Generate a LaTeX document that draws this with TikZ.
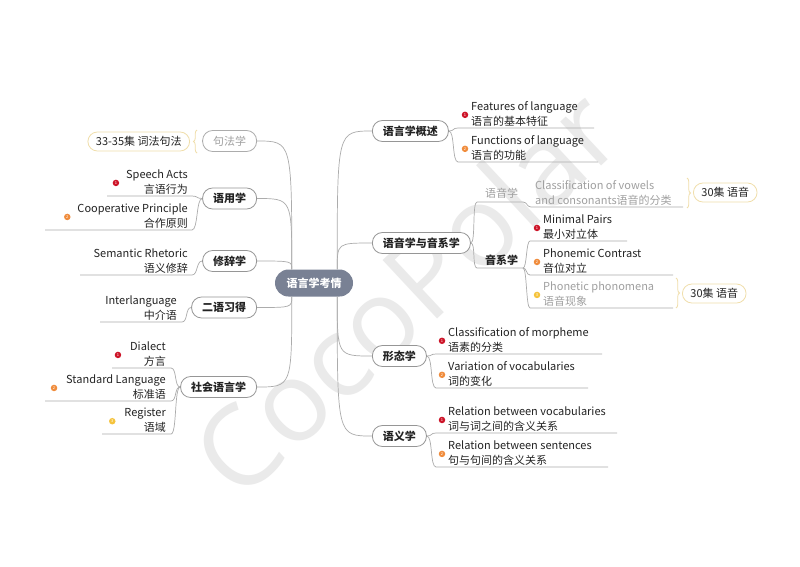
\documentclass[tikz,border=0pt]{standalone}
\usepackage{fontspec}
\setmainfont{Noto Sans CJK SC}
\newfontfamily\wmfont{Open Sans}
\usetikzlibrary{decorations.pathreplacing}
\definecolor{lnc}{RGB}{172,172,172}
\definecolor{bdc}{RGB}{150,150,150}
\definecolor{ctr}{RGB}{121,129,148}
\definecolor{txt}{RGB}{35,35,35}
\definecolor{gtx}{RGB}{160,160,160}
\definecolor{ylw}{RGB}{240,222,170}
\definecolor{bA}{RGB}{205,20,40}
\definecolor{bB}{RGB}{240,140,60}
\definecolor{bC}{RGB}{245,195,60}
\definecolor{wm}{RGB}{234,234,234}
\tikzset{
  conn/.style={draw=lnc, line width=0.7pt},
  branch/.style={draw=bdc, line width=0.8pt, rounded corners=10pt, minimum height=21pt,
    inner xsep=10.5pt, inner ysep=0pt, font=\bfseries\fontsize{11}{13}\selectfont, text=txt, fill=white},
  leaf/.style={inner sep=0pt, align=left, font=\fontsize{11}{15}\selectfont, text=txt},
  leafL/.style={leaf, align=right},
  bul/.style={circle, inner sep=0pt, minimum size=6.5pt, text=white, font=\fontsize{4}{4}\selectfont},
  tagbox/.style={draw=ylw, line width=0.8pt, rounded corners=9.5pt, minimum height=19pt,
    inner xsep=8pt, inner ysep=0pt, font=\fontsize{11}{13}\selectfont, text=txt, fill=white},
  brc/.style={draw=ylw, line width=0.8pt, decorate, decoration={brace, amplitude=3.5pt}}
}
\begin{document}
\begin{tikzpicture}[x=1pt,y=-1pt]
\useasboundingbox (0,0) rectangle (800,566);
\fill[white] (0,0) rectangle (800,566);
% watermark
\node[rotate=43, text=wm, font=\wmfont\fontsize{112}{112}\selectfont] (wmk) at (405,292) {CocoPolar};

% center
\node[fill=ctr, text=white, rounded corners=13.5pt, minimum width=78pt, minimum height=27pt, inner sep=0pt,
  font=\bfseries\fontsize{11}{13}\selectfont] (c) at (314,283) {语言学考情};
\coordinate (cRU) at ([xshift=-16pt]c.north east);
\coordinate (cRD) at ([xshift=-16pt]c.south east);
\coordinate (cLU) at ([xshift=17pt]c.north west);
\coordinate (cLD) at ([xshift=17pt]c.south west);

% right branches
\node[branch, anchor=west] (r1) at (372,131) {语言学概述};
\node[branch, anchor=west] (r2) at (372,243) {语音学与音系学};
\node[branch, anchor=west] (r3) at (372,356) {形态学};
\node[branch, anchor=west] (r4) at (372,436) {语义学};
% left branches
\node[branch, anchor=east, draw=lnc, text=gtx, font=\fontsize{11}{13}\selectfont] (l1) at (257,141) {句法学};
\node[branch, anchor=east] (l2) at (257,198.5) {语用学};
\node[branch, anchor=east] (l3) at (257,261) {修辞学};
\node[branch, anchor=east] (l4) at (257,307.5) {二语习得};
\node[branch, anchor=east] (l5) at (257,387) {社会语言学};

\draw[conn] (cRU) .. controls (cRU |- r1.west) .. (r1.west);
\draw[conn] (cRU) .. controls (cRU |- r2.west) .. (r2.west);
\draw[conn] (cRD) .. controls (cRD |- r3.west) .. (r3.west);
\draw[conn] (cRD) .. controls (cRD |- r4.west) .. (r4.west);
\draw[conn] (cLU) .. controls (cLU |- l1.east) .. (l1.east);
\draw[conn] (cLU) .. controls (cLU |- l2.east) .. (l2.east);
\draw[conn] (cLU) .. controls (cLU |- l3.east) .. (l3.east);
\draw[conn] (cLD) .. controls (cLD |- l4.east) .. (l4.east);
\draw[conn] (cLD) .. controls (cLD |- l5.east) .. (l5.east);

% ---------- 语言学概述
\coordinate (a1s) at (458,128); \coordinate (a1e) at (594,128);
\coordinate (a2s) at (458,162); \coordinate (a2e) at (598,162);
\draw[conn] (r1.east) .. controls +(6,0) and +(-6,0) .. (a1s) -- (a1e);
\draw[conn] (r1.east) .. controls +(6,0) and +(-6,0) .. (a2s) -- (a2e);
\node[leaf, anchor=south west] (a1) at (471,127) {Features of language\\语言的基本特征};
\node[leaf, anchor=south west] (a2) at (471,161) {Functions of language\\语言的功能};
\node[bul, fill=bA] at ([shift={(-6pt,-13pt)}]a1.north west) {1};
\node[bul, fill=bB] at ([shift={(-6pt,-13pt)}]a2.north west) {2};

% ---------- 语音学与音系学
\coordinate (p1s) at (477,202); \coordinate (p1e) at (523,202);
\coordinate (p2s) at (477,268); \coordinate (p2e) at (523,268);
\draw[conn] (r2.east) .. controls +(5,0) and +(-5,0) .. (p1s) -- (p1e);
\draw[conn] (r2.east) .. controls +(5,0) and +(-5,0) .. (p2s) -- (p2e);
\node[leaf, text=gtx, anchor=south west] (p1) at (485,199) {语音学};
\node[leaf, font=\bfseries\fontsize{11}{15}\selectfont, anchor=south west] (p2) at (485,265.5) {音系学};

\coordinate (v1s) at (531,207); \coordinate (v1e) at (683,207);
\draw[conn] (p1e) .. controls +(4,0) and +(-4,0) .. (v1s) -- (v1e);
\node[leaf, text=gtx, anchor=south west] (v1) at (535,206) {Classification of vowels\\and consonants语音的分类};
\draw[brc] (687,178) -- (687,208);
\node[tagbox, anchor=west] (t1) at (693,192.5) {30集 语音};

\coordinate (m1s) at (530,241); \coordinate (m1e) at (627,241);
\coordinate (m2s) at (530,275); \coordinate (m2e) at (673,275);
\coordinate (m3s) at (530,308); \coordinate (m3e) at (673,308);
\draw[conn] (p2e) .. controls +(4,0) and +(-4,0) .. (m1s) -- (m1e);
\draw[conn] (p2e) .. controls +(4,0) and +(-4,0) .. (m2s) -- (m2e);
\draw[conn] (p2e) .. controls +(4,0) and +(-4,0) .. (m3s) -- (m3e);
\node[leaf, anchor=south west] (m1) at (543,240) {Minimal Pairs\\最小对立体};
\node[leaf, anchor=south west] (m2) at (543,274) {Phonemic Contrast\\音位对立};
\node[leaf, text=gtx, anchor=south west] (m3) at (543,307) {Phonetic phonomena\\语音现象};
\node[bul, fill=bA] at ([shift={(-6pt,-13pt)}]m1.north west) {1};
\node[bul, fill=bB] at ([shift={(-6pt,-13pt)}]m2.north west) {2};
\node[bul, fill=bC] at ([shift={(-6pt,-13pt)}]m3.north west) {3};
\draw[brc] (676,278) -- (676,308);
\node[tagbox, anchor=west] (t2) at (682,293.5) {30集 语音};

% ---------- 形态学
\coordinate (f1s) at (436,354); \coordinate (f1e) at (602,354);
\coordinate (f2s) at (436,388); \coordinate (f2e) at (588,388);
\draw[conn] (r3.east) .. controls +(6,0) and +(-6,0) .. (f1s) -- (f1e);
\draw[conn] (r3.east) .. controls +(6,0) and +(-6,0) .. (f2s) -- (f2e);
\node[leaf, anchor=south west] (f1) at (448,353) {Classification of morpheme\\语素的分类};
\node[leaf, anchor=south west] (f2) at (448,387) {Variation of vocabularies\\词的变化};
\node[bul, fill=bA] at ([shift={(-6pt,-13pt)}]f1.north west) {1};
\node[bul, fill=bB] at ([shift={(-6pt,-13pt)}]f2.north west) {2};

% ---------- 语义学
\coordinate (y1s) at (436,433); \coordinate (y1e) at (617,433);
\coordinate (y2s) at (436,467); \coordinate (y2e) at (608,467);
\draw[conn] (r4.east) .. controls +(6,0) and +(-6,0) .. (y1s) -- (y1e);
\draw[conn] (r4.east) .. controls +(6,0) and +(-6,0) .. (y2s) -- (y2e);
\node[leaf, anchor=south west] (y1) at (448,432) {Relation between vocabularies\\词与词之间的含义关系};
\node[leaf, anchor=south west] (y2) at (448,466) {Relation between sentences\\句与句间的含义关系};
\node[bul, fill=bA] at ([shift={(-6pt,-13pt)}]y1.north west) {1};
\node[bul, fill=bB] at ([shift={(-6pt,-13pt)}]y2.north west) {2};

% ---------- 句法学
\draw[brc] (197,153) -- (197,130);
\node[tagbox, anchor=east] (t3) at (190,141.5) {33-35集 词法句法};

% ---------- 语用学
\coordinate (s1s) at (192,196); \coordinate (s1e) at (107,196);
\coordinate (s2s) at (192,230); \coordinate (s2e) at (45,230);
\draw[conn] (l2.west) .. controls +(-6,0) and +(6,0) .. (s1s) -- (s1e);
\draw[conn] (l2.west) .. controls +(-6,0) and +(6,0) .. (s2s) -- (s2e);
\node[leafL, anchor=south east] (s1) at (188,195) {Speech Acts\\言语行为};
\node[leafL, anchor=south east] (s2) at (188,229) {Cooperative Principle\\合作原则};
\node[bul, fill=bA] at ([shift={(-10pt,-13pt)}]s1.north west) {1};
\node[bul, fill=bB] at ([shift={(-10pt,-13pt)}]s2.north west) {2};

% ---------- 修辞学
\coordinate (h1s) at (192,275); \coordinate (h1e) at (80,275);
\draw[conn] (l3.west) .. controls +(-6,0) and +(6,0) .. (h1s) -- (h1e);
\node[leafL, anchor=south east] (h1) at (188,274) {Semantic Rhetoric\\语义修辞};

% ---------- 二语习得
\coordinate (e1s) at (182,322); \coordinate (e1e) at (100,322);
\draw[conn] (l4.west) .. controls +(-6,0) and +(6,0) .. (e1s) -- (e1e);
\node[leafL, anchor=south east] (e1) at (177,321) {Interlanguage\\中介语};

% ---------- 社会语言学
\coordinate (g1s) at (171,368); \coordinate (g1e) at (112,368);
\coordinate (g2s) at (171,401); \coordinate (g2e) at (45,401);
\coordinate (g3s) at (171,434); \coordinate (g3e) at (102,434);
\draw[conn] (l5.west) .. controls +(-6,0) and +(6,0) .. (g1s) -- (g1e);
\draw[conn] (l5.west) .. controls +(-6,0) and +(6,0) .. (g2s) -- (g2e);
\draw[conn] (l5.west) .. controls +(-6,0) and +(6,0) .. (g3s) -- (g3e);
\node[leafL, anchor=south east] (g1) at (166,367) {Dialect\\方言};
\node[leafL, anchor=south east] (g2) at (166,400) {Standard Language\\标准语};
\node[leafL, anchor=south east] (g3) at (166,433) {Register\\语域};
\node[bul, fill=bA] at ([shift={(-12pt,-13pt)}]g1.north west) {1};
\node[bul, fill=bB] at ([shift={(-12pt,-13pt)}]g2.north west) {2};
\node[bul, fill=bC] at ([shift={(-12pt,-13pt)}]g3.north west) {3};
\end{tikzpicture}
\end{document}
